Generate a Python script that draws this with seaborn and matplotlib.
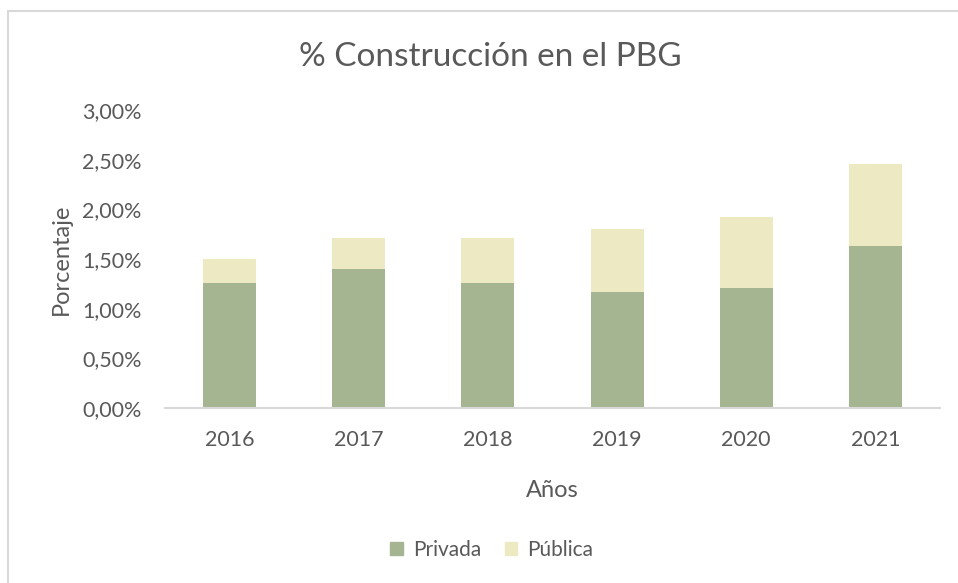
import matplotlib.pyplot as plt
import matplotlib.ticker as mticker
from matplotlib.patches import Rectangle, Patch
import pandas as pd
import seaborn as sns

years = ["2016", "2017", "2018", "2019", "2020", "2021"]
privada = [1.26, 1.40, 1.26, 1.17, 1.21, 1.63]
publica = [0.24, 0.31, 0.45, 0.63, 0.71, 0.83]

green = "#a5b592"
cream = "#ede9c3"
text_color = "#595959"

df = pd.DataFrame({"year": years, "privada": privada, "publica": publica})
df["total"] = df["privada"] + df["publica"]

sns.set_style("white")
plt.rcParams["font.family"] = ["Lato", "DejaVu Sans"]

fig = plt.figure(figsize=(9.58, 5.83), dpi=100)
ax = fig.add_axes([165 / 958, 1 - 408 / 583, (940 - 165) / 958, (408 - 110) / 583])

# stacked bars: total first (pública on top), then privada over it
sns.barplot(df, x="year", y="total", color=cream, width=0.41, ax=ax,
            saturation=1, edgecolor="none")
sns.barplot(df, x="year", y="privada", color=green, width=0.41, ax=ax,
            saturation=1, edgecolor="none")

ax.set_ylim(0, 3)
ax.set_xlim(-0.5, 5.5)
ax.yaxis.set_major_locator(mticker.MultipleLocator(0.5))
ax.yaxis.set_major_formatter(
    mticker.FuncFormatter(lambda v, _: f"{v:.2f}%".replace(".", ",")))

sns.despine(ax=ax, left=True)
ax.spines["bottom"].set_color("#d9d9d9")
ax.spines["bottom"].set_linewidth(1.5)
ax.tick_params(axis="both", length=0, labelsize=15.5, colors=text_color)
ax.tick_params(axis="y", pad=17)
ax.tick_params(axis="x", pad=16)

ax.set_xlabel("Años", fontsize=17, color=text_color)
ax.set_ylabel("Porcentaje", fontsize=17, color=text_color)
ax.xaxis.set_label_coords(0.5, -0.24)
ax.yaxis.set_label_coords(-0.12, 0.5)

fig.text(490 / 958, 1 - 57 / 583, "% Construcción en el PBG", ha="center",
         va="center", fontsize=24, color=text_color)

handles = [Patch(color=green, label="Privada"), Patch(color=cream, label="Pública")]
leg = fig.legend(handles=handles, loc="center", bbox_to_anchor=(492 / 958, 1 - 550 / 583),
                 ncol=2, frameon=False, fontsize=15, handlelength=0.6,
                 handleheight=0.6, columnspacing=1.1, handletextpad=0.5)
for t in leg.get_texts():
    t.set_color(text_color)

# outer chart border (cropped on right and bottom)
fig.patches.append(Rectangle((7.5 / 958, -0.1), 1.2, 1.1 - 11 / 583,
                             transform=fig.transFigure, fill=False,
                             edgecolor="#d9d9d9", linewidth=1.5))

plt.savefig("out.png", dpi=100)
